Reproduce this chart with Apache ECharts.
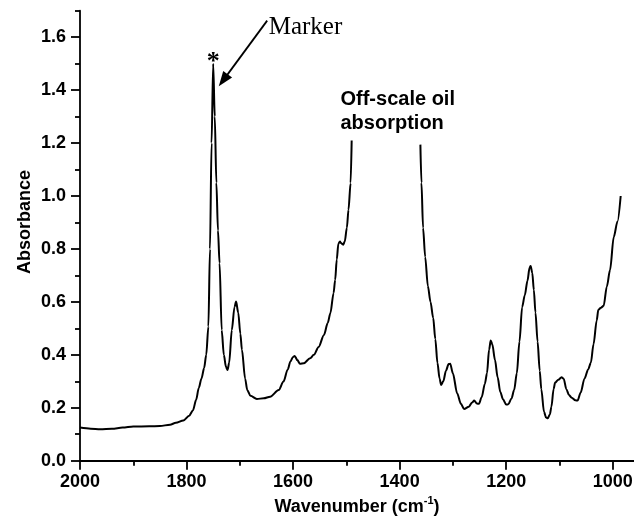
<!DOCTYPE html>
<html><head><meta charset="utf-8">
<script src="https://cdn.jsdelivr.net/npm/echarts@6/dist/echarts.min.js"></script>
<style>html,body{margin:0;padding:0;background:#fff}#c{width:634px;height:523px}</style>
</head><body><div id="c"></div>
<script>
// Wavenumber (cm^-1) and absorbance (null = off-scale gap)
const wavenumbers = [2000,1980,1962,1940,1920,1900,1870,1850,1831,1820,1806,1795,1788,1782,1777,1772,1767,1763,1759,1756,1753,1750,1747,1744,1741,1738,1734,1730,1726,1723,1720,1715,1710,1707,1703,1699,1696,1690,1686,1680,1668,1655,1643,1627,1618,1610,1605,1600,1597,1592,1587,1580,1568,1561,1552,1542,1535,1530,1524,1521,1518,1515,1512,1510,1506,1503,1499,1496,1492,1490,
  1425,
  1361,1359,1356,1352,1347,1342,1337,1333,1329,1325,1322,1318,1313,1308,1305,1300,1292,1285,1279,1270,1264,1260,1255,1251,1246,1240,1236,1232,1229,1226,1221,1216,1211,1206,1200,1196,1190,1185,1180,1175,1170,1165,1160,1156,1154,1151,1148,1145,1141,1137,1134,1129,1125,1122,1118,1115,1111,1108,1102,1096,1092,1087,1082,1077,1070,1066,1060,1053,1046,1041,1036,1030,1027,1022,1017,1011,1005,998,991,985];
const absorbance = [0.125,0.121,0.119,0.121,0.125,0.129,0.130,0.131,0.136,0.143,0.152,0.170,0.190,0.230,0.275,0.310,0.350,0.400,0.507,0.800,1.200,1.500,1.300,1.050,0.870,0.746,0.494,0.400,0.355,0.343,0.370,0.494,0.580,0.601,0.560,0.480,0.419,0.310,0.267,0.245,0.233,0.236,0.242,0.267,0.299,0.345,0.375,0.392,0.396,0.380,0.366,0.368,0.387,0.400,0.430,0.475,0.520,0.557,0.633,0.683,0.760,0.820,0.828,0.822,0.816,0.828,0.880,0.948,1.049,1.210,
  null,
  1.194,1.050,0.880,0.770,0.660,0.600,0.540,0.460,0.370,0.310,0.286,0.300,0.340,0.365,0.366,0.330,0.255,0.215,0.195,0.204,0.220,0.227,0.216,0.215,0.240,0.290,0.330,0.420,0.454,0.440,0.381,0.315,0.260,0.232,0.212,0.213,0.235,0.267,0.330,0.450,0.580,0.625,0.680,0.730,0.736,0.710,0.645,0.560,0.450,0.340,0.270,0.185,0.163,0.160,0.175,0.204,0.270,0.295,0.306,0.315,0.310,0.270,0.248,0.238,0.228,0.227,0.258,0.310,0.345,0.370,0.440,0.530,0.570,0.578,0.585,0.658,0.720,0.845,0.904,1.000];
const xMajorTicks = [2000,1800,1600,1400,1200,1000];
const xMinorTicks = [1900,1700,1500,1300,1100];
const yMajorTicks = [0,0.2,0.4,0.6,0.8,1.0,1.2,1.4,1.6];
const yMinorTicks = [0.1,0.3,0.5,0.7,0.9,1.1,1.3,1.5,1.7];
const xRange = [960, 2000];
const yRange = [0, 1.7];
const markerPeak = [1750, 1.5];

const seriesData = wavenumbers.map((w, i) => [w, absorbance[i]]);
const SANS = '"Liberation Sans", Arial, sans-serif';
const SERIF = '"Liberation Serif", "Times New Roman", serif';

const chart = echarts.init(document.getElementById('c'), null, {renderer: 'canvas'});
const axisCommon = {type: 'value', splitLine: {show: false}};
chart.setOption({
  animation: false,
  backgroundColor: '#fff',
  grid: {left: 80, right: 0, top: 10.7, bottom: 62.3, containLabel: false, outerBoundsMode: 'none'},
  xAxis: [
    Object.assign({}, axisCommon, {
      min: xRange[0], max: xRange[1], inverse: true, position: 'bottom',
      axisLine: {show: true, onZero: false, lineStyle: {color: '#000', width: 1.8}},
      axisTick: {show: true, inside: false, length: 9, customValues: xMajorTicks, lineStyle: {color: '#000', width: 1.8}},
      axisLabel: {show: true, customValues: xMajorTicks, margin: 12, color: '#000', fontFamily: SANS, fontWeight: 'bold', fontSize: 18,
        formatter: v => String(Math.round(v))},
      name: '{a|Wavenumber (cm}{s|-1}{a|)}',
      nameLocation: 'middle', nameGap: 35,
      nameTextStyle: {rich: {
        a: {fontFamily: SANS, fontWeight: 'bold', fontSize: 18, color: '#000', lineHeight: 22},
        s: {fontFamily: SANS, fontWeight: 'bold', fontSize: 11, color: '#000', lineHeight: 12, verticalAlign: 'top'}
      }}
    }),
    Object.assign({}, axisCommon, {
      min: xRange[0], max: xRange[1], inverse: true, position: 'bottom',
      axisLine: {show: false},
      axisTick: {show: true, inside: false, length: 5, customValues: xMinorTicks, lineStyle: {color: '#000', width: 1.8}},
      axisLabel: {show: false}
    })
  ],
  yAxis: [
    Object.assign({}, axisCommon, {
      min: yRange[0], max: yRange[1], position: 'left',
      axisLine: {show: true, onZero: false, lineStyle: {color: '#000', width: 1.8}},
      axisTick: {show: true, inside: false, length: 9, customValues: yMajorTicks, lineStyle: {color: '#000', width: 1.8}},
      axisLabel: {show: true, customValues: yMajorTicks, margin: 14, color: '#000', fontFamily: SANS, fontWeight: 'bold', fontSize: 18,
        formatter: v => Number(v).toFixed(1)}
    }),
    Object.assign({}, axisCommon, {
      min: yRange[0], max: yRange[1], position: 'left',
      axisLine: {show: false},
      axisTick: {show: true, inside: false, length: 5, customValues: yMinorTicks, lineStyle: {color: '#000', width: 1.8}},
      axisLabel: {show: false}
    })
  ],
  series: [{
    type: 'line', xAxisIndex: 0, yAxisIndex: 0,
    data: seriesData, showSymbol: false, symbol: 'none',
    smooth: 0.3, smoothMonotone: 'x', connectNulls: false,
    lineStyle: {color: '#000', width: 2}
  }]
});

// Annotations anchored to data coordinates
const pk = chart.convertToPixel({xAxisIndex: 0, yAxisIndex: 0}, markerPeak);
const tip = [pk[0] + 5.6, pk[1] + 22.7];
const tail = [pk[0] + 54, pk[1] - 43];
const dx = tip[0] - tail[0], dy = tip[1] - tail[1];
const len = Math.sqrt(dx * dx + dy * dy);
const ux = dx / len, uy = dy / len;
const headLen = 15, headW = 5.5;
const base = [tip[0] - ux * headLen, tip[1] - uy * headLen];
const offLabel = chart.convertToPixel({xAxisIndex: 0, yAxisIndex: 0}, [1511, 1.42]);
chart.setOption({
  graphic: [
    {type: 'text', x: pk[0], y: pk[1] - 1,
      style: {text: '*', font: 'bold 26px ' + SERIF, fill: '#000', align: 'center', verticalAlign: 'middle'}},
    {type: 'line', shape: {x1: tail[0], y1: tail[1], x2: base[0] + ux * 2, y2: base[1] + uy * 2},
      style: {stroke: '#000', lineWidth: 1.8}},
    {type: 'polygon', shape: {points: [tip,
      [base[0] - uy * headW, base[1] + ux * headW],
      [base[0] + uy * headW, base[1] - ux * headW]]},
      style: {fill: '#000'}},
    {type: 'text', x: tail[0] + 1.5, y: pk[1] - 36.6,
      style: {text: 'Marker', font: '25px ' + SERIF, fill: '#000', align: 'left', verticalAlign: 'middle'}},
    {type: 'text', x: offLabel[0], y: 87,
      style: {text: 'Off-scale oil\nabsorption', font: 'bold 20px ' + SANS, lineHeight: 24, fill: '#000', align: 'left', verticalAlign: 'top'}},
    {type: 'text', x: 25, y: 222, rotation: Math.PI / 2,
      style: {text: 'Absorbance', font: 'bold 18px ' + SANS, fill: '#000', align: 'center', verticalAlign: 'middle'}}
  ]
});
</script></body></html>
